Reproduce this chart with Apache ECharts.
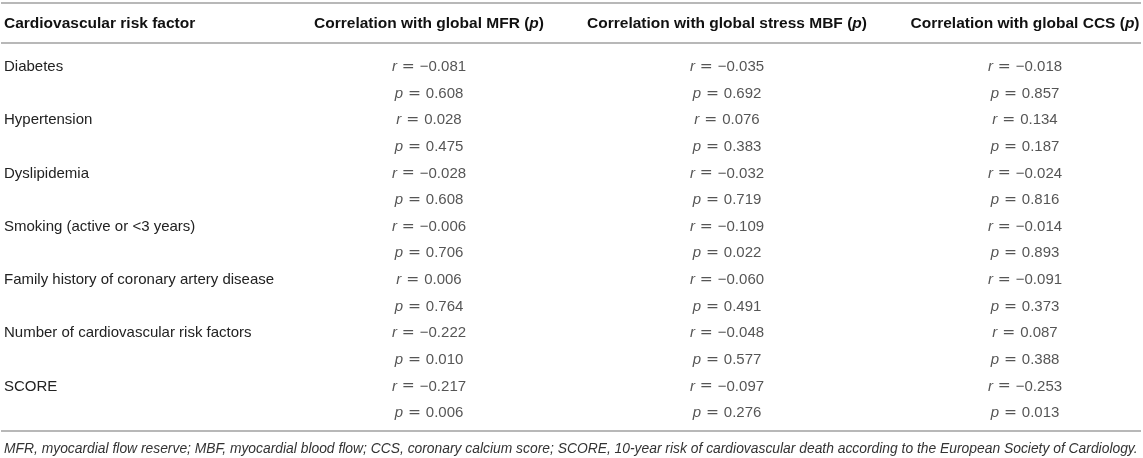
<!DOCTYPE html>
<html>
<head>
<meta charset="utf-8">
<script src="https://cdn.jsdelivr.net/npm/echarts@6/dist/echarts.min.js"></script>
<style>
  html, body { margin: 0; padding: 0; background: #fff; }
  #table { width: 1143px; height: 458px; }
</style>
</head>
<body>
<div id="table"></div>
<script>
const factors = [
    'Diabetes',
    'Hypertension',
    'Dyslipidemia',
    'Smoking (active or <3 years)',
    'Family history of coronary artery disease',
    'Number of cardiovascular risk factors',
    'SCORE'
];
const headers = [
    'Correlation with global MFR (p)',
    'Correlation with global stress MBF (p)',
    'Correlation with global CCS (p)'
];
const mfrR = [-0.081, 0.028, -0.028, -0.006, 0.006, -0.222, -0.217];
const mfrP = [0.608, 0.475, 0.608, 0.706, 0.764, 0.010, 0.006];
const mbfR = [-0.035, 0.076, -0.032, -0.109, -0.060, -0.048, -0.097];
const mbfP = [0.692, 0.383, 0.719, 0.022, 0.491, 0.577, 0.276];
const ccsR = [-0.018, 0.134, -0.024, -0.014, -0.091, 0.087, -0.253];
const ccsP = [0.857, 0.187, 0.816, 0.893, 0.373, 0.388, 0.013];
const footnote = 'MFR, myocardial flow reserve; MBF, myocardial blood flow; CCS, coronary calcium score; ' +
    'SCORE, 10-year risk of cardiovascular death according to the European Society of Cardiology.';

const font = 'Liberation Sans';
const ruleColor = '#b8b8b8';

// two text lines per factor: r then p
const rowNames = [];
factors.forEach(function (f) {
    rowNames.push(f);
    rowNames.push(f + ' (p)');
});

const columns = [[mfrR, mfrP], [mbfR, mbfP], [ccsR, ccsP]];

function fmt(v) {
    const s = Math.abs(v).toFixed(3);
    return v < 0 ? '\u2212' + s : s;
}

const series = columns.map(function (col, c) {
    const data = [];
    factors.forEach(function (f, i) {
        data.push({ value: [c, i * 2], kind: 'r', num: col[0][i] });
        data.push({ value: [c, i * 2 + 1], kind: 'p', num: col[1][i] });
    });
    return {
        type: 'scatter',
        symbolSize: 0,
        silent: true,
        data: data,
        label: {
            show: true,
            position: 'inside',
            formatter: function (params) {
                const d = params.data;
                return '{i|' + d.kind + '}{s| = }{n|' + fmt(d.num) + '}';
            },
            rich: {
                i: { fontFamily: font, fontStyle: 'italic', fontSize: 15, color: '#2a2a2a' },
                s: { fontFamily: 'DejaVu Sans', fontSize: 15.5, color: '#2a2a2a' },
                n: { fontFamily: font, fontSize: 15, color: '#2a2a2a' }
            }
        }
    };
});

const option = {
    backgroundColor: '#fff',
    animation: false,
    title: {
        text: 'Cardiovascular risk factor',
        left: 4,
        top: 16,
        padding: 0,
        textStyle: { fontFamily: font, fontSize: 15.5, fontWeight: 'bold', color: '#111' }
    },
    grid: { left: 429, right: 118, top: 67, bottom: 45 },
    xAxis: {
        type: 'category',
        data: headers,
        position: 'top',
        boundaryGap: false,
        axisLine: { show: false },
        axisTick: { show: false },
        splitLine: { show: false },
        axisLabel: {
            interval: 0,
            margin: 43,
            verticalAlign: 'middle',
            formatter: function (v) {
                return '{b|' + v.replace(' (p)', ' (') + '}{bi|p}{b|)}';
            },
            rich: {
                b: { fontFamily: font, fontSize: 15.5, fontWeight: 'bold', color: '#111' },
                bi: { fontFamily: font, fontSize: 15.5, fontWeight: 'bold', fontStyle: 'italic', color: '#111' }
            }
        }
    },
    yAxis: {
        type: 'category',
        data: rowNames,
        inverse: true,
        boundaryGap: false,
        axisLine: { show: false },
        axisTick: { show: false },
        splitLine: { show: false },
        axisLabel: {
            interval: 0,
            align: 'left',
            margin: 425,
            fontFamily: font,
            fontSize: 15,
            color: '#222',
            formatter: function (v, i) {
                return i % 2 === 0 ? v : '';
            }
        }
    },
    graphic: [
        { type: 'line', shape: { x1: 1, y1: 3, x2: 1141, y2: 3 }, style: { stroke: ruleColor, lineWidth: 2 } },
        { type: 'line', shape: { x1: 1, y1: 43, x2: 1141, y2: 43 }, style: { stroke: ruleColor, lineWidth: 2 } },
        { type: 'line', shape: { x1: 1, y1: 431, x2: 1141, y2: 431 }, style: { stroke: ruleColor, lineWidth: 2 } },
        {
            type: 'text', x: 4, y: 449,
            style: {
                text: footnote,
                font: 'italic 13.85px "Liberation Sans"',
                fill: '#333',
                verticalAlign: 'middle'
            }
        }
    ],
    series: series
};

const chart = echarts.init(document.getElementById('table'));
chart.setOption(option);
</script>
</body>
</html>
